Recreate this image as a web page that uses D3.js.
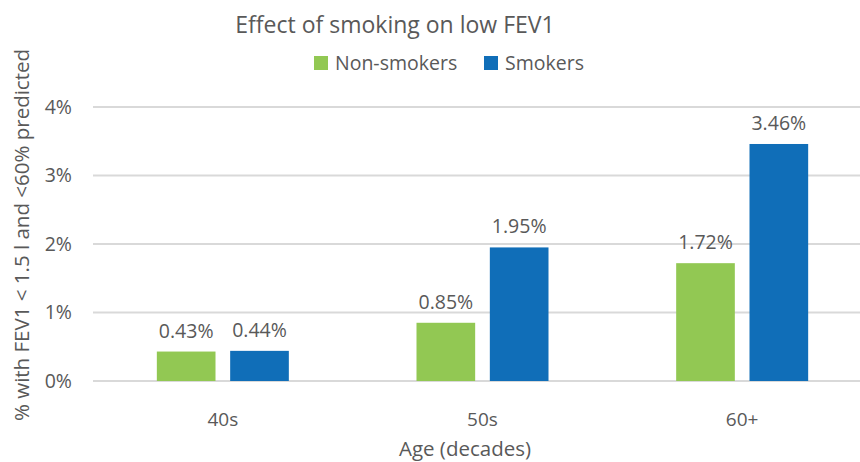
<!DOCTYPE html>
<meta charset="utf-8">
<style>
body { margin: 0; background: #fff; }
text { font-family: "Open Sans", sans-serif; fill: #595959; }
</style>
<body>
<svg width="860" height="462"></svg>
<script src="https://d3js.org/d3.v7.min.js"></script>
<script>

var categories = ["40s", "50s", "60+"];
var series = ["Non-smokers", "Smokers"];
var nonSmokers = [0.43, 0.85, 1.72];
var smokers = [0.44, 1.95, 3.46];
var yTicks = [0, 1, 2, 3, 4];
var colors = ["#92c853", "#106eb8"];

var svg = d3.select("svg"),
    margin = {top: 107, right: -12, bottom: 81, left: 93},
    width = +svg.attr("width") - margin.left - margin.right,
    height = +svg.attr("height") - margin.top - margin.bottom;

var g = svg.append("g").attr("transform", "translate(" + margin.left + "," + margin.top + ")");

var x = d3.scaleBand().domain(categories).range([0, width]).paddingInner(0).paddingOuter(0);
var x1 = d3.scaleBand().domain(series).range([x.bandwidth() / 2 - 66, x.bandwidth() / 2 + 66]).paddingInner(0.2);
var y = d3.scaleLinear().domain([0, 4]).range([height, 0]);

// gridlines
g.selectAll(".grid")
  .data(yTicks)
  .enter().append("line")
    .attr("x1", 0).attr("x2", width)
    .attr("y1", function(d) { return y(d); })
    .attr("y2", function(d) { return y(d); })
    .attr("stroke", "#d9d9d9")
    .attr("stroke-width", 2);

// y tick labels
g.selectAll(".ytick")
  .data(yTicks)
  .enter().append("text")
    .attr("x", -21)
    .attr("y", function(d) { return y(d); })
    .attr("dy", "0.35em")
    .attr("text-anchor", "end")
    .style("font-size", "19.5px")
    .text(function(d) { return d + "%"; });

var rows = categories.map(function(c, i) {
  return {cat: c, vals: [nonSmokers[i], smokers[i]]};
});

var group = g.selectAll(".grp")
  .data(rows)
  .enter().append("g")
    .attr("transform", function(d) { return "translate(" + x(d.cat) + ",0)"; });

var bar = group.selectAll(".bar")
  .data(function(d) { return d.vals.map(function(v, i) { return {s: series[i], v: v, i: i}; }); })
  .enter();

bar.append("rect")
    .attr("x", function(d) { return x1(d.s); })
    .attr("width", x1.bandwidth())
    .attr("y", function(d) { return y(d.v); })
    .attr("height", function(d) { return y(0) - y(d.v); })
    .attr("fill", function(d) { return colors[d.i]; });

bar.append("text")
    .attr("x", function(d) { return x1(d.s) + x1.bandwidth() / 2; })
    .attr("y", function(d) { return y(d.v) - 14; })
    .attr("text-anchor", "middle")
    .style("font-size", "19.5px")
    .text(function(d) { return d.v.toFixed(2) + "%"; });

// x tick labels
g.selectAll(".xtick")
  .data(categories)
  .enter().append("text")
    .attr("x", function(d) { return x(d) + x.bandwidth() / 2; })
    .attr("y", height + 45)
    .attr("text-anchor", "middle")
    .style("font-size", "19px")
    .text(function(d) { return d; });

// axis titles
svg.append("text")
    .attr("x", 465)
    .attr("y", 456)
    .attr("text-anchor", "middle")
    .style("font-size", "20.5px")
    .text("Age (decades)");

svg.append("text")
    .attr("transform", "translate(29,235) rotate(-90)")
    .attr("text-anchor", "middle")
    .style("font-size", "20.5px")
    .text("% with FEV1 < 1.5 l and <60% predicted");

// title
svg.append("text")
    .attr("x", 395)
    .attr("y", 33)
    .attr("text-anchor", "middle")
    .style("font-size", "23px")
    .text("Effect of smoking on low FEV1");

// legend
var legendX = [314, 484];
var leg = svg.selectAll(".legend")
  .data(series)
  .enter().append("g")
    .attr("transform", function(d, i) { return "translate(" + legendX[i] + ",56)"; });

leg.append("rect")
    .attr("width", 14).attr("height", 14)
    .attr("fill", function(d, i) { return colors[i]; });

leg.append("text")
    .attr("x", 21)
    .attr("y", 7)
    .attr("dy", "0.35em")
    .style("font-size", "19.5px")
    .text(function(d) { return d; });

</script>
</body>
